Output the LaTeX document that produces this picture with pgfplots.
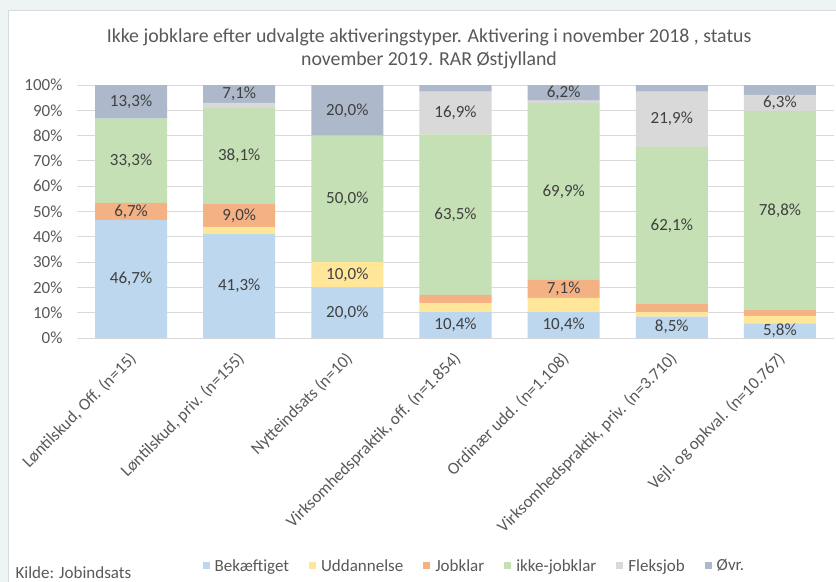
\documentclass[border=0pt]{standalone}
\usepackage{pgfplots}
\pgfplotsset{compat=1.18}
\usepackage{pgfplotstable}
\usepackage{fontspec}
\setmainfont{Carlito}

\definecolor{cB}{HTML}{BDD7EE}
\definecolor{cU}{HTML}{FFE699}
\definecolor{cJ}{HTML}{F4B183}
\definecolor{cI}{HTML}{C5E0B4}
\definecolor{cF}{HTML}{D9D9D9}
\definecolor{cO}{HTML}{ADB9CA}
\definecolor{txt}{HTML}{595959}
\definecolor{lbl}{HTML}{404040}
\definecolor{gridc}{HTML}{D9D9D9}
\definecolor{bgout}{HTML}{EEF3F3}
\definecolor{framec}{HTML}{D5DCDC}

% shares in percent, one row per activation type
\pgfplotstableread{
idx b    u    j   i    f    o
0   46.7 0    6.7 33.3 0    13.3
1   41.3 2.6  9.0 38.1 1.9  7.1
2   20.0 10.0 0   50.0 0    20.0
3   10.4 3.4  3.2 63.5 16.9 2.6
4   10.4 5.5  7.1 69.9 0.9  6.2
5   8.5  1.7  3.2 62.1 21.9 2.6
6   5.8  2.9  2.3 78.8 6.3  3.9
}\data

\newcommand{\fs}{\fontsize{17bp}{20bp}\selectfont}

\pgfplotsset{
  frame/.style={at={(77bp,-338bp)}, anchor=south west,
    scale only axis, width=757bp, height=253bp,
    xmin=-0.5, xmax=6.5, ymin=0, ymax=100},
  seglabel/.style={draw=none, mark=none, point meta=explicit symbolic,
    nodes near coords={\ifdim\pgfplotspointmeta pt<5.7pt\else\pgfmathprintnumber[fixed,fixed zerofill,precision=1,use comma,assume math mode=true]{\pgfplotspointmeta}\%\fi},
    every node near coord/.append style={font=\fs, text=lbl, anchor=center, inner sep=0pt}},
}

\begin{document}
\begin{tikzpicture}
\useasboundingbox (0,0) rectangle (836bp,-582bp);
\fill[bgout] (0,0) rectangle (836bp,-582bp);
\filldraw[fill=white, draw=framec] (8bp,-10bp) rectangle (845bp,-590bp);
\node[font=\fontsize{19.8bp}{23bp}\selectfont, text=txt, align=center]
  at (429bp,-48.5bp) {Ikke jobklare efter udvalgte aktiveringstyper. Aktivering i november 2018 , status\\november 2019. RAR Østjylland};
\node[anchor=west, font=\fs, text=txt] at (12bp,-573bp) {Kilde: Jobindsats};
\begin{axis}[
  frame,
  ybar stacked, bar width=0.666,
  xtick={0,...,6},
  xticklabels={{Løntilskud, Off. (n=15)},{Løntilskud, priv. (n=155)},{Nytteindsats (n=10)},
    {Virksomhedspraktik, off. (n=1.854)},{Ordinær udd. (n=1.108)},
    {Virksomhedspraktik, priv. (n=3.710)},{Vejl. og opkval. (n=10.767)}},
  ytick={0,10,...,100},
  yticklabels={0\%,10\%,20\%,30\%,40\%,50\%,60\%,70\%,80\%,90\%,100\%},
  tick style={draw=none},
  axis line style={draw=none},
  ymajorgrids, grid style={gridc, line width=1bp},
  yticklabel style={font=\fs, text=txt, anchor=east, xshift=-11bp},
  xticklabel style={font=\fs, text=txt, xshift=5bp, yshift=-16bp, rotate=45, anchor=east},
  legend style={at={(0.525,-0.901)}, anchor=center, draw=none, fill=none,
    font=\fs, text=txt, legend columns=-1,
    /tikz/every even column/.append style={column sep=18bp}},
  legend image code/.code={\path (0bp,0bp) -- (10bp,0bp); \fill[#1] (0bp,-3.5bp) rectangle (7bp,3.5bp);},
]
\addplot[fill=cB, draw=none] table[x=idx, y=b] {\data};
\addplot[fill=cU, draw=none] table[x=idx, y=u] {\data};
\addplot[fill=cJ, draw=none] table[x=idx, y=j] {\data};
\addplot[fill=cI, draw=none] table[x=idx, y=i] {\data};
\addplot[fill=cF, draw=none] table[x=idx, y=f] {\data};
\addplot[fill=cO, draw=none] table[x=idx, y=o] {\data};
\legend{Bekæftiget,Uddannelse,Jobklar,ikke-jobklar,Fleksjob,Øvr.}
\end{axis}
% value labels, centred in each segment
\begin{axis}[frame, hide axis]
\addplot[seglabel] table[x=idx, y expr=\thisrow{b}/2, meta=b] {\data};
\addplot[seglabel] table[x=idx, y expr=\thisrow{b}+\thisrow{u}/2, meta=u] {\data};
\addplot[seglabel] table[x=idx, y expr=\thisrow{b}+\thisrow{u}+\thisrow{j}/2, meta=j] {\data};
\addplot[seglabel] table[x=idx, y expr=\thisrow{b}+\thisrow{u}+\thisrow{j}+\thisrow{i}/2, meta=i] {\data};
\addplot[seglabel] table[x=idx, y expr=\thisrow{b}+\thisrow{u}+\thisrow{j}+\thisrow{i}+\thisrow{f}/2, meta=f] {\data};
\addplot[seglabel] table[x=idx, y expr=100-\thisrow{o}/2, meta=o] {\data};
\end{axis}
\end{tikzpicture}
\end{document}
